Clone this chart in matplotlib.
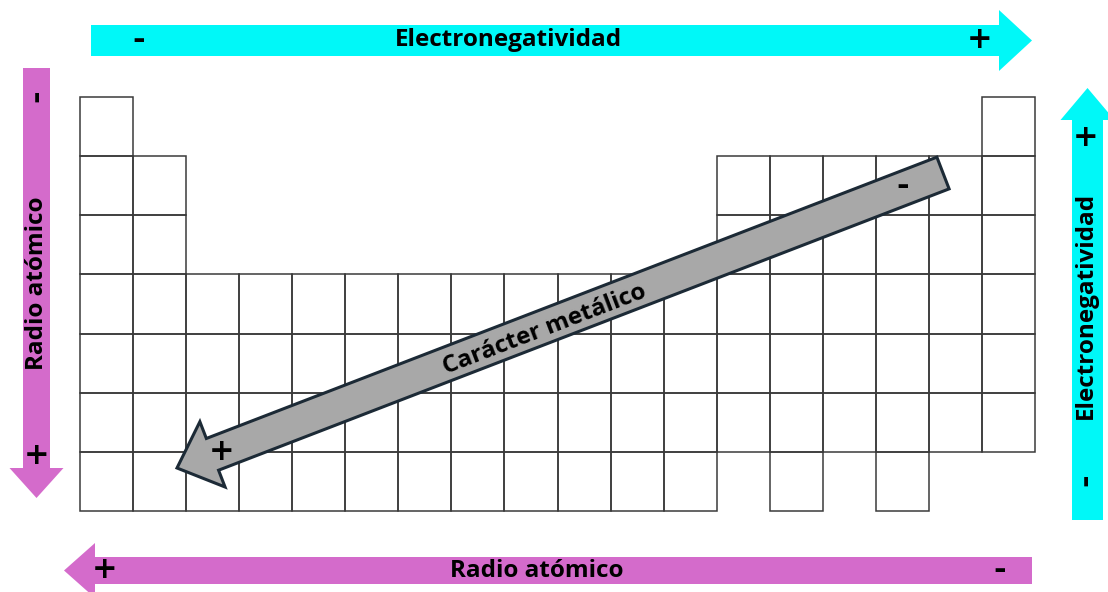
import matplotlib.pyplot as plt
from matplotlib.patches import Rectangle, FancyArrow

# periodic table layout: which groups (1..18) exist in each period (1..7)
periods = [1, 2, 3, 4, 5, 6, 7]
groups_in_period = [
    [1, 18],
    [1, 2, 13, 14, 15, 16, 17, 18],
    [1, 2, 13, 14, 15, 16, 17, 18],
    list(range(1, 19)),
    list(range(1, 19)),
    list(range(1, 19)),
    list(range(1, 13)) + [14, 16],
]

title_en = 'Electronegatividad'
title_ra = 'Radio atómico'
title_cm = 'Carácter metálico'

cyan = '#00f8f8'
magenta = '#d46bcb'
gray = '#a8a8a8'

plt.rcParams['font.family'] = ['Open Sans', 'DejaVu Sans']

fig = plt.figure(figsize=(11.08, 5.92), dpi=100)
ax = fig.add_axes([0, 0, 1, 1])
ax.set_xlim(0, 1108)
ax.set_ylim(592, 0)
ax.axis('off')

# grid geometry
x0, y0 = 80, 97
cw, ch = (1035 - 80) / 18, (511 - 97) / 7

for p, groups in zip(periods, groups_in_period):
    for g in groups:
        ax.add_patch(Rectangle((x0 + (g - 1) * cw, y0 + (p - 1) * ch), cw, ch,
                               fill=False, edgecolor='#3a3a3a', lw=1.1, zorder=2))

txt = dict(fontsize=17.5, fontweight='bold', color='black', ha='center', va='center', zorder=6)
sign = dict(fontsize=22, fontweight='bold', color='black', ha='center', va='center',
            zorder=6, family='DejaVu Sans')

# top arrow
ax.add_patch(FancyArrow(91, 40.5, 941, 0, width=31, head_width=61, head_length=33,
                        length_includes_head=True, color=cyan, lw=0, zorder=3))
ax.text(508, 40, title_en, **txt)
ax.text(139, 40, '-', **sign)
ax.text(980, 39, '+', **sign)

# bottom arrow
ax.add_patch(FancyArrow(1032, 570.5, -968, 0, width=27, head_width=55, head_length=31,
                        length_includes_head=True, color=magenta, lw=0, zorder=3))
ax.text(537, 571, title_ra, **txt)
ax.text(105, 569, '+', **sign)
ax.text(1000, 570, '-', **sign)

# left arrow
ax.add_patch(FancyArrow(36.5, 68, 0, 430, width=27, head_width=54, head_length=30,
                        length_includes_head=True, color=magenta, lw=0, zorder=3))
ax.text(37, 283, title_ra, rotation=90, **txt)
ax.text(37, 96, '-', rotation=90, **sign)
ax.text(37, 455, '+', **sign)

# right arrow
ax.add_patch(FancyArrow(1087.5, 520, 0, -432, width=31, head_width=54, head_length=32,
                        length_includes_head=True, color=cyan, lw=0, zorder=3))
ax.text(1086, 305, title_en, rotation=90, **txt)
ax.text(1086, 138, '+', **sign)
ax.text(1086, 480, '-', rotation=90, **sign)

# diagonal arrow
ax.add_patch(FancyArrow(943, 173, -766, 295, width=34, head_width=70, head_length=38,
                        length_includes_head=True, facecolor=gray, edgecolor='#1c2a36',
                        lw=2.2, zorder=4))
ax.text(545, 330, title_cm, rotation=21, rotation_mode='anchor', **txt)
ax.text(903, 187, '-', **sign)
ax.text(222, 452, '+', **sign)

fig.savefig('out.png', dpi=100)
